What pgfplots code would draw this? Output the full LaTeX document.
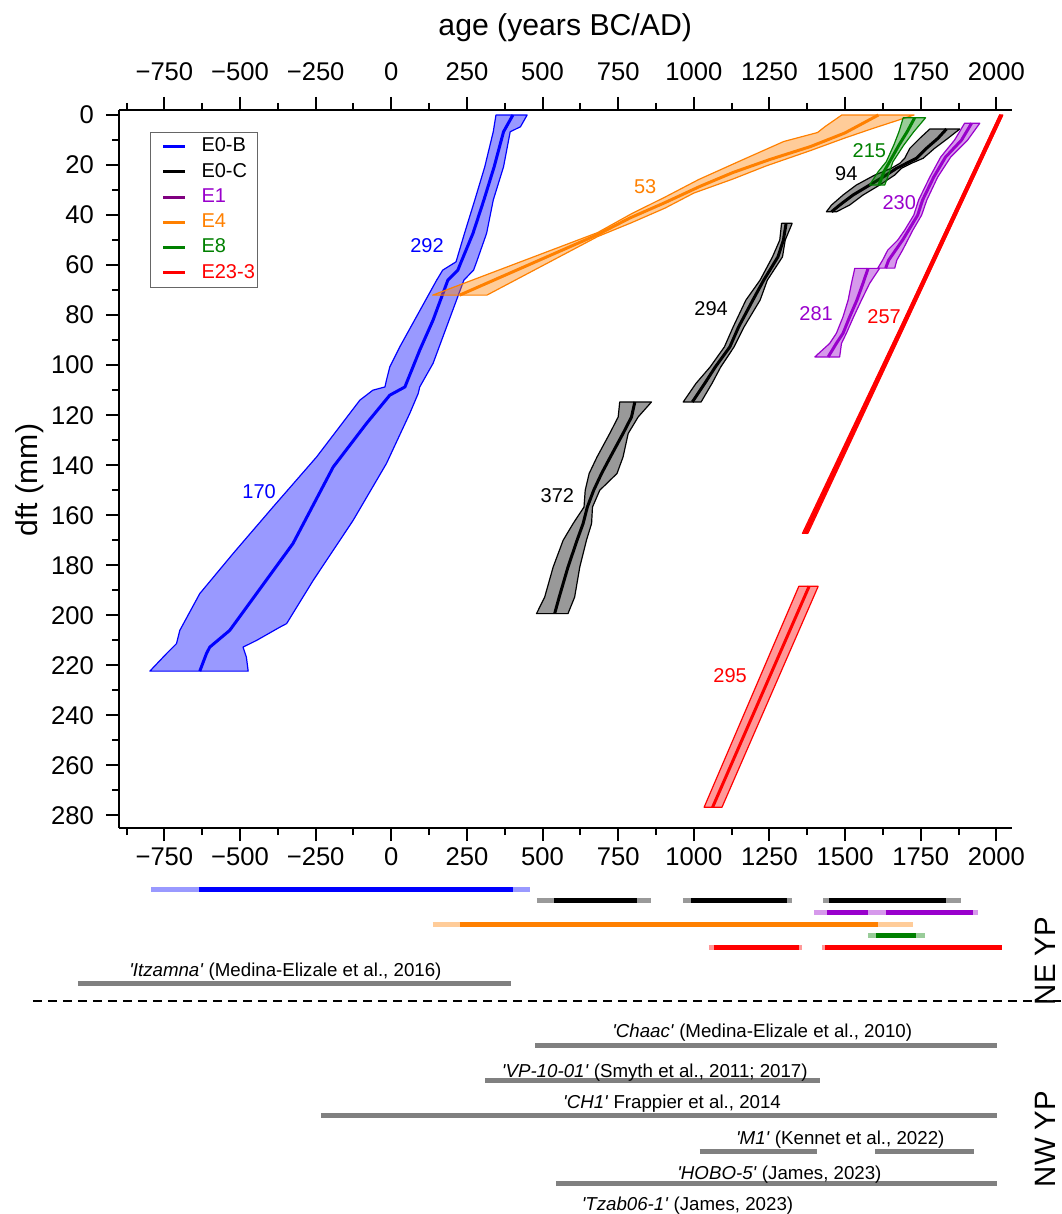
\documentclass[border=0pt]{standalone}
\usepackage{fontspec}
\setmainfont{Liberation Sans}
\usepackage{pgfplots}
\pgfplotsset{compat=1.18}

\definecolor{cBlue}{RGB}{0,0,255}
\definecolor{cOrange}{RGB}{255,128,0}
\definecolor{cGreen}{RGB}{0,128,0}
\definecolor{cPurple}{RGB}{153,0,204}
\definecolor{cPurpleLeg}{RGB}{128,0,128}
\definecolor{cRed}{RGB}{255,0,0}
\definecolor{cGray}{RGB}{128,128,128}

\pgfplotsset{
  band/.style={draw=#1, fill=#1, fill opacity=0.4, line width=0.6pt, line join=round, forget plot},
  core/.style={draw=#1, line width=1.5pt, line join=round, forget plot},
  rng/.style={draw=#1, line width=2.5pt, forget plot},
}

\newcommand{\tickfont}{\fontsize{12.8}{15}\selectfont}
\newcommand{\lblfont}{\fontsize{10}{12}\selectfont}
\newcommand{\reffont}{\fontsize{9.35}{11}\selectfont}
\newcommand{\q}{\textquotesingle}

\begin{document}
\begin{tikzpicture}
% ---------------- age-depth models ----------------
\begin{axis}[
  at={(0pt,0pt)}, anchor=south west,
  scale only axis, width=446.25pt, height=359pt,
  xmin=-900, xmax=2050, ymin=-2, ymax=285, y dir=reverse,
  axis x line=box, axis y line=left,
  axis line style={-, line width=1pt},
  xtick={-750,-500,-250,0,250,500,750,1000,1250,1500,1750,2000},
  xticklabels={−750,−500,−250,0,250,500,750,1000,1250,1500,1750,2000},
  minor xtick={-875,-625,-375,-125,125,375,625,875,1125,1375,1625,1875},
  ytick={0,20,...,280},
  minor ytick={10,30,...,270},
  tick align=outside,
  major tick length=6.5pt, minor tick length=3.5pt,
  tick style={black, line width=1pt},
  /pgf/number format/assume math mode=true,
  tick label style={font=\tickfont},
  yticklabel style={xshift=-2.5pt},
  legend cell align=left,
  legend style={at={(0.0352,0.9698)}, anchor=north west, draw=black!60,
    line width=0.5pt, fill=white, font=\lblfont, inner xsep=0pt, inner ysep=0.8pt,
    row sep=0pt, column sep=6pt,
    nodes={inner xsep=1.5pt, inner ysep=2.1pt}},
  legend image code/.code={\path (0pt,0pt); \draw[#1, line width=1.5pt] (5.8pt,0pt) -- (16.8pt,0pt);},
]
% E0-B
\addplot[band=cBlue] coordinates {
 (346,0) (337,6.7) (309,20.7) (276,34) (242,47.3) (214,58.7) (170,62) (150,66)
 (28,92.7) (-5,100.7) (-16,106) (-21,108.7) (-61,110) (-104,114) (-247,136.7)
 (-391,156.7) (-523,175.3) (-633,191.3) (-699,206) (-710,211.3) (-743,215.3) (-798,222.3)
 (-473,222.3) (-479,216.7) (-490,212.7) (-445,210) (-368,204.7) (-346,203.3) (-258,186)
 (-126,162) (-16,139.3) (61,119.3) (89,111.3) (94,108.7) (138,99.3) (240,66) (272,62)
 (282,58.7) (315,47.3) (337,34) (371,20.7) (393,6.7) (427,4.7) (449,0)} -- cycle;
\addplot[core=cBlue] coordinates {
 (402,0) (371,6.7) (340,20.7) (306,34) (270,47.3) (231,58.7) (220,62) (187,66) (138,82)
 (94,94) (45,108.7) (-5,112) (-82,123.3) (-192,140.7) (-325,171.3) (-534,206)
 (-600,212.7) (-611,215.3) (-633,222.3)};
% E4
\addplot[band=cOrange] coordinates {
 (1489,0) (1433,4.7) (1409,7.0) (1297,10.6) (1152,18.4) (1016,25.8) (905,32.8) (795,39.4)
 (682,47.0) (137,72)
 (316,72) (682,48.6) (795,43.0) (905,37.2) (1000,31.2) (1129,25.6) (1238,20.4)
 (1386,14.2) (1499,9.2) (1591,5.4) (1728,0)} -- cycle;
\addplot[core=cOrange] coordinates {
 (1610,0) (1499,7.2) (1386,12.6) (1251,17.8) (1129,23.0) (1019,28.6) (905,35.0) (788,41.2)
 (682,47.8) (226,72)};
% E0-C, upper segment
\addplot[band=black] coordinates {
 (1780,5.6) (1747,9.3) (1714,13.3) (1697,17.3) (1681,19.3) (1653,21.3) (1598,24) (1537,28)
 (1493,32) (1455,36) (1438,38.7)
 (1471,38.7) (1515,36) (1559,32) (1614,28) (1664,24) (1686,21.3) (1719,19.3) (1758,17.3)
 (1796,13.3) (1840,9.3) (1879,5.6)} -- cycle;
\addplot[core=black] coordinates {
 (1835,5.6) (1807,9.3) (1769,13.3) (1736,17.3) (1703,19.3) (1670,21.3) (1636,24)
 (1581,28) (1526,32) (1482,36) (1455,38.7)};
% E0-C, middle segment
\addplot[band=black] coordinates {
 (1290,43.3) (1284,50) (1260,56.7) (1219,66) (1172,74) (1130,84.7) (1101,92.7) (1054,100.7)
 (1007,107.3) (965,114.7)
 (1024,114.7) (1060,107.3) (1089,100.7) (1133,92.7) (1166,84.7) (1219,74) (1243,66)
 (1293,56.7) (1302,50) (1325,43.3)} -- cycle;
\addplot[core=black] coordinates {
 (1305,43.3) (1296,50) (1278,56.7) (1231,66) (1195,74) (1148,84.7) (1119,92.7)
 (1071,100.7) (1036,107.3) (995,114.7)};
% E0-C, lower segment
\addplot[band=black] coordinates {
 (755,114.7) (750,120.7) (722,127.3) (680,136.7) (654,143.3) (641,150) (637,156.7)
 (601,163.3) (568,170) (535,180.7) (507,192.7) (480,199.3)
 (584,199.3) (606,192.7) (623,180.7) (645,170) (662,163.3) (665,156.7) (689,150)
 (746,143.3) (766,136.7) (783,127.3) (816,120.7) (860,114.7)} -- cycle;
\addplot[core=black] coordinates {
 (805,114.7) (794,120.7) (766,127.3) (724,136.7) (695,143.3) (669,150) (648,156.7)
 (634,163.3) (614,170) (584,180.7) (555,192.7) (540,199.3)};
% E1, upper segment
\addplot[band=cPurple] coordinates {
 (1895,3.3) (1862,10) (1816,16.8) (1780,24.8) (1743,34) (1727,40) (1697,46) (1674,50)
 (1641,54) (1624,58) (1608,61.2)
 (1664,61.2) (1671,58) (1690,54) (1707,50) (1724,46) (1753,40) (1770,34) (1806,24.8)
 (1849,16.8) (1905,10) (1945,3.3)} -- cycle;
\addplot[core=cPurple] coordinates {
 (1918,3.3) (1885,10) (1832,16.8) (1793,24.8) (1756,34) (1740,40) (1710,46) (1690,50)
 (1667,54) (1644,58) (1634,61.2)};
% E1, lower segment
\addplot[band=cPurple] coordinates {
 (1532,61.3) (1521,67.3) (1510,74) (1493,80.7) (1471,87.3) (1449,91.3) (1400,96.7)
 (1482,96.7) (1488,91.3) (1504,87.3) (1528,80.7) (1554,74) (1581,67.3) (1614,61.3)} -- cycle;
\addplot[core=cPurple] coordinates {
 (1576,61.3) (1559,67.3) (1539,74) (1515,80.7) (1493,87.3) (1471,91.3) (1444,96.7)};
% E8
\addplot[band=cGreen] coordinates {
 (1692,1.1) (1678,6.7) (1661,12) (1636,18.7) (1609,22.7) (1581,28)
 (1631,28) (1647,22.7) (1658,18.7) (1694,12) (1727,6.7) (1766,1.1)} -- cycle;
\addplot[core=cGreen] coordinates {
 (1730,1.1) (1705,6.7) (1678,12) (1647,18.7) (1628,22.7) (1612,28)};
% E23-3
\addplot[band=cRed] coordinates {
 (2011,0) (1686,84) (1359,167.2) (1377,167.2) (1698,84) (2021,0)} -- cycle;
\addplot[core=cRed, line width=2pt] coordinates {(2016,0) (1692,84) (1368,167.2)};
\addplot[band=cRed] coordinates {
 (1347,188.4) (1034,276.7) (1093,276.7) (1411,188.4)} -- cycle;
\addplot[core=cRed] coordinates {(1381,188.4) (1062,276.7)};

% legend
\addlegendimage{cBlue}\addlegendentry{E0-B}
\addlegendimage{black}\addlegendentry{E0-C}
\addlegendimage{cPurpleLeg}\addlegendentry{\textcolor{cPurple}{E1}}
\addlegendimage{cOrange}\addlegendentry{\textcolor{cOrange}{E4}}
\addlegendimage{cGreen}\addlegendentry{\textcolor{cGreen}{E8}}
\addlegendimage{cRed}\addlegendentry{\textcolor{cRed}{E23-3}}

% growth-rate labels
\node[font=\lblfont, text=cBlue] at (axis cs:118,52.3) {292};
\node[font=\lblfont, text=cBlue] at (axis cs:-437,150.5) {170};
\node[font=\lblfont, text=cOrange] at (axis cs:839,28.5) {53};
\node[font=\lblfont, text=cGreen] at (axis cs:1580,14.2) {215};
\node[font=\lblfont, text=black] at (axis cs:1504,23.5) {94};
\node[font=\lblfont, text=cPurple] at (axis cs:1679,35.1) {230};
\node[font=\lblfont, text=black] at (axis cs:1057,77.4) {294};
\node[font=\lblfont, text=cPurple] at (axis cs:1404,79.3) {281};
\node[font=\lblfont, text=cRed] at (axis cs:1629,80.7) {257};
\node[font=\lblfont, text=black] at (axis cs:549,152) {372};
\node[font=\lblfont, text=cRed] at (axis cs:1120,224) {295};
\end{axis}

% top age scale
\begin{axis}[
  at={(0pt,0pt)}, anchor=south west,
  scale only axis, width=446.25pt, height=359pt,
  xmin=-900, xmax=2050, ymin=-2, ymax=285, y dir=reverse,
  axis x line=top, axis y line=none,
  axis line style={draw=none},
  xtick={-750,-500,-250,0,250,500,750,1000,1250,1500,1750,2000},
  xticklabels={−750,−500,−250,0,250,500,750,1000,1250,1500,1750,2000},
  tick align=outside, major tick length=6.5pt,
  major tick style={draw=none},
  tick label style={font=\tickfont},
  xticklabel style={yshift=4.5pt},
]
\end{axis}

% sample coverage and regional records
\begin{axis}[
  at={(0pt,-16.15pt)}, anchor=north west,
  scale only axis, width=446.25pt, height=179.8pt,
  xmin=-900, xmax=2050, ymin=-2.5, ymax=28.5, y dir=reverse,
  hide axis, clip=false,
]
% E0-B
\addplot[rng=cBlue!40] coordinates {(-794,0) (-636,0)};
\addplot[rng=cBlue] coordinates {(-636,0) (401,0)};
\addplot[rng=cBlue!40] coordinates {(401,0) (458,0)};
% E0-C
\addplot[rng=black!40] coordinates {(481,1) (538,1)};
\addplot[rng=black] coordinates {(538,1) (812,1)};
\addplot[rng=black!40] coordinates {(812,1) (858,1)};
\addplot[rng=black!40] coordinates {(964,1) (991,1)};
\addplot[rng=black] coordinates {(991,1) (1307,1)};
\addplot[rng=black!40] coordinates {(1307,1) (1324,1)};
\addplot[rng=black!40] coordinates {(1427,1) (1448,1)};
\addplot[rng=black] coordinates {(1448,1) (1834,1)};
\addplot[rng=black!40] coordinates {(1834,1) (1883,1)};
% E1
\addplot[rng=cPurple!40] coordinates {(1398,2) (1440,2)};
\addplot[rng=cPurple] coordinates {(1440,2) (1575,2)};
\addplot[rng=cPurple!40] coordinates {(1575,2) (1634,2)};
\addplot[rng=cPurple] coordinates {(1634,2) (1923,2)};
\addplot[rng=cPurple!40] coordinates {(1923,2) (1940,2)};
% E4
\addplot[rng=cOrange!40] coordinates {(137,3) (226,3)};
\addplot[rng=cOrange] coordinates {(226,3) (1608,3)};
\addplot[rng=cOrange!40] coordinates {(1608,3) (1724,3)};
% E8
\addplot[rng=cGreen!40] coordinates {(1577,4) (1602,4)};
\addplot[rng=cGreen] coordinates {(1602,4) (1733,4)};
\addplot[rng=cGreen!40] coordinates {(1733,4) (1764,4)};
% E23-3
\addplot[rng=cRed!40] coordinates {(1050,5) (1065,5)};
\addplot[rng=cRed] coordinates {(1065,5) (1349,5)};
\addplot[rng=cRed!40] coordinates {(1349,5) (1358,5)};
\addplot[rng=cRed!40] coordinates {(1424,5) (1434,5)};
\addplot[rng=cRed] coordinates {(1434,5) (2019,5)};
% other records
\addplot[rng=cGray] coordinates {(-1036,8.1) (395,8.1)};
\addplot[rng=cGray] coordinates {(476,13.48) (2003,13.48)};
\addplot[rng=cGray] coordinates {(310,16.5) (1418,16.5)};
\addplot[rng=cGray] coordinates {(-233,19.52) (2003,19.52)};
\addplot[rng=cGray] coordinates {(1019,22.59) (1408,22.59)};
\addplot[rng=cGray] coordinates {(1598,22.59) (1926,22.59)};
\addplot[rng=cGray] coordinates {(545,25.4) (2003,25.4)};

\node[font=\reffont, anchor=base] at (axis cs:-350,7.53) {\textit{\q Itzamna\q} (Medina-Elizale et al., 2016)};
\node[font=\reffont, anchor=base] at (axis cs:1226,12.79) {\textit{\q Chaac\q} (Medina-Elizale et al., 2010)};
\node[font=\reffont, anchor=base] at (axis cs:871,16.22) {\textit{\q VP-10-01\q} (Smyth et al., 2011; 2017)};
\node[font=\reffont, anchor=base] at (axis cs:928,18.89) {\textit{\q CH1\q} Frappier et al., 2014};
\node[font=\reffont, anchor=base] at (axis cs:1484,22.04) {\textit{\q M1\q} (Kennet et al., 2022)};
\node[font=\reffont, anchor=base] at (axis cs:1283,25.06) {\textit{\q HOBO-5\q} (James, 2023)};
\node[font=\reffont, anchor=base] at (axis cs:979,27.71) {\textit{\q Tzab06-1\q} (James, 2023)};

\draw[black, line width=1pt, dash pattern=on 4.5pt off 3pt] (axis cs:-1185,9.63) -- (axis cs:2212,9.63);
\end{axis}

% axis titles and region labels
\node[font=\fontsize{15.1}{18}\selectfont, anchor=base] at (223.1pt,396pt) {age (years BC/AD)};
\node[font=\fontsize{15.1}{18}\selectfont, rotate=90] at (-44.5pt,174pt) {dft (mm)};
\node[font=\fontsize{14.7}{17}\selectfont, rotate=90] at (463pt,-66.5pt) {NE YP};
\node[font=\fontsize{14.7}{17}\selectfont, rotate=90] at (463pt,-155.5pt) {NW YP};

\pgfresetboundingbox
\useasboundingbox (-59.5pt,-193pt) rectangle (471pt,414pt);
\end{tikzpicture}
\end{document}
